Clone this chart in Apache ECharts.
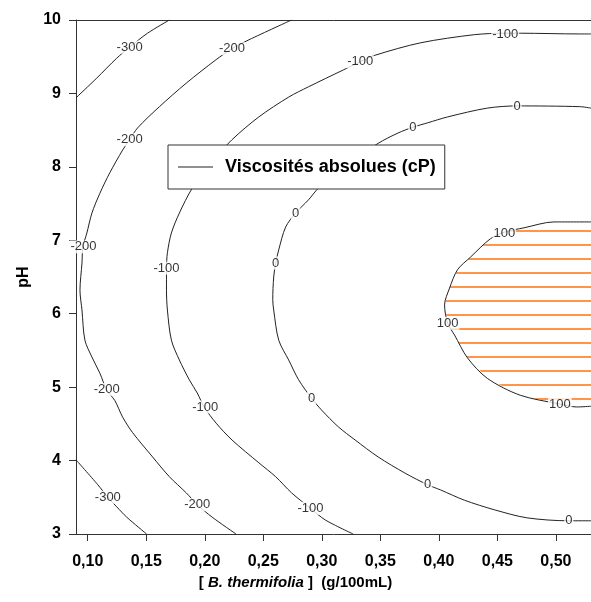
<!DOCTYPE html>
<html>
<head>
<meta charset="utf-8">
<script src="https://cdn.jsdelivr.net/npm/echarts@6/dist/echarts.min.js"></script>
<style>html,body{margin:0;padding:0;background:#fff}#c{width:591px;height:602px}</style>
</head>
<body>
<div id="c"></div>
<script>
// ---- data ----
const xTicks = [0.10, 0.15, 0.20, 0.25, 0.30, 0.35, 0.40, 0.45, 0.50];
const yTicks = [3, 4, 5, 6, 7, 8, 9, 10];
const legendName = 'Viscosités absolues (cP)';

const contourM300Top = [[0.090,8.94],[0.1078,9.21],[0.1248,9.48],[0.1358,9.63],[0.1511,9.82],[0.1698,10.0]];
const contourM300Bot = [[0.090,4.01],[0.1087,3.67],[0.1172,3.50],[0.1248,3.37],[0.1333,3.23],[0.1503,3.0]];
const contourM200 = [[0.2742,10.0],[0.2377,9.73],[0.2233,9.61],[0.2097,9.46],[0.1842,9.14],[0.1613,8.82],[0.1426,8.53],[0.1358,8.37],[0.1299,8.23],[0.1189,7.92],[0.1104,7.64],[0.1036,7.37],[0.0993,7.10],[0.0959,6.91],[0.0951,6.69],[0.0934,6.32],[0.0951,6.05],[0.0976,5.64],[0.1036,5.41],[0.1104,5.19],[0.1163,4.96],[0.1231,4.82],[0.1299,4.59],[0.1384,4.38],[0.1554,4.05],[0.1698,3.78],[0.1842,3.56],[0.1936,3.40],[0.2063,3.23],[0.2267,3.0]];
const contourM100 = [[0.53,9.81],[0.5204,9.81],[0.4695,9.82],[0.4567,9.82],[0.4304,9.80],[0.3846,9.69],[0.3455,9.52],[0.3328,9.43],[0.3184,9.32],[0.2886,9.09],[0.2717,8.95],[0.2462,8.68],[0.2233,8.37],[0.2050,8.05],[0.1893,7.71],[0.1783,7.37],[0.1715,7.10],[0.1681,6.83],[0.1673,6.62],[0.1673,6.32],[0.1681,6.05],[0.1715,5.64],[0.1783,5.37],[0.1868,5.10],[0.1936,4.92],[0.1995,4.73],[0.2097,4.51],[0.2233,4.28],[0.2462,3.97],[0.2606,3.78],[0.2742,3.56],[0.2903,3.35],[0.3031,3.19],[0.3268,3.0]];
const contour0 = [[0.53,8.80],[0.5204,8.82],[0.4669,8.83],[0.4414,8.80],[0.4075,8.68],[0.3905,8.60],[0.3778,8.54],[0.3650,8.46],[0.3481,8.32],[0.3200,8.02],[0.2971,7.71],[0.2886,7.55],[0.2776,7.37],[0.2691,7.18],[0.2632,6.87],[0.2606,6.69],[0.2589,6.50],[0.2581,6.19],[0.2589,6.05],[0.2632,5.64],[0.2717,5.37],[0.2802,5.10],[0.2912,4.85],[0.2997,4.69],[0.3141,4.46],[0.3285,4.28],[0.3481,4.05],[0.3710,3.83],[0.3905,3.67],[0.4015,3.60],[0.4219,3.46],[0.4474,3.33],[0.4754,3.22],[0.5111,3.18],[0.53,3.18]];
const contour100 = [[0.53,7.25],[0.4983,7.25],[0.4728,7.17],[0.4559,7.11],[0.4440,7.02],[0.4270,6.77],[0.4160,6.60],[0.4092,6.35],[0.4049,6.12],[0.4075,5.87],[0.4134,5.71],[0.4244,5.40],[0.4414,5.12],[0.4695,4.89],[0.5034,4.77],[0.5178,4.73],[0.53,4.74]];

const contourLabels = [
  [0.1358,9.63,'-300'],[0.1172,3.50,'-300'],
  [0.2233,9.61,'-200'],[0.1358,8.37,'-200'],[0.0964,6.91,'-200'],[0.1163,4.97,'-200'],[0.1936,3.40,'-200'],
  [0.3328,9.43,'-100'],[0.4567,9.81,'-100'],[0.1673,6.62,'-100'],[0.2004,4.73,'-100'],[0.2903,3.35,'-100'],
  [0.3778,8.54,'0'],[0.4669,8.82,'0'],[0.2776,7.37,'0'],[0.2606,6.69,'0'],[0.2912,4.85,'0'],[0.3905,3.67,'0'],[0.5111,3.18,'0'],
  [0.4559,7.10,'100'],[0.4075,5.87,'100'],[0.5034,4.77,'100']
];

// ---- chart ----
const FONT = '"Liberation Sans", Arial, sans-serif';
const chart = echarts.init(document.getElementById('c'), null, {renderer: 'canvas'});

// hatch pattern (horizontal orange lines)
const pat = document.createElement('canvas');
pat.width = 8; pat.height = 14;
const pctx = pat.getContext('2d');
pctx.fillStyle = '#FF9548';
pctx.fillRect(0, 6, 8, 2);

const contours = [contourM300Top, contourM300Bot, contourM200, contourM100, contour0, contour100];
const lineSeries = contours.map(d => ({
  name: legendName,
  type: 'line',
  data: d,
  symbol: 'none',
  smooth: 0.3,
  color: '#222',
  lineStyle: {color: '#222', width: 1},
  z: 3,
  silent: true
}));

const option = {
  animation: false,
  backgroundColor: '#fff',
  grid: {left: 76, top: 20, width: 518, height: 514, containLabel: false},
  legend: {
    data: [{name: legendName, icon: 'rect', itemStyle: {color: '#222'}}],
    left: 168, top: 145,
    padding: [13, 9, 13, 10],
    itemWidth: 35, itemHeight: 1, itemGap: 12,
    backgroundColor: '#fff',
    borderColor: '#333', borderWidth: 1, borderRadius: 0,
    textStyle: {fontFamily: FONT, fontWeight: 'bold', fontSize: 18, color: '#000', padding: [0, 0, 0, 7]},
    selectedMode: false
  },
  xAxis: [{
    type: 'value', min: 0.09, max: 0.53,
    position: 'bottom',
    axisLine: {show: true, onZero: false, lineStyle: {color: '#333', width: 1}},
    axisTick: {show: true, length: 7, customValues: xTicks, lineStyle: {color: '#333'}},
    axisLabel: {customValues: xTicks, margin: 20, fontFamily: FONT, fontWeight: 'bold', fontSize: 16, color: '#000',
      formatter: v => v.toFixed(2).replace('.', ',')},
    splitLine: {show: false},
    name: '{b|[ }{bi|B. thermifolia}{b| ]  (g/100mL)}',
    nameLocation: 'middle', nameGap: 41,
    nameTextStyle: {padding: [0, 76, 0, 0], rich: {
      b: {fontFamily: FONT, fontWeight: 'bold', fontSize: 15, color: '#000'},
      bi: {fontFamily: FONT, fontWeight: 'bold', fontStyle: 'italic', fontSize: 15, color: '#000'}
    }}
  }, {
    type: 'value', min: 0.09, max: 0.53, position: 'top',
    axisLine: {show: true, onZero: false, lineStyle: {color: '#333', width: 1}},
    axisTick: {show: false}, axisLabel: {show: false}, splitLine: {show: false}
  }],
  yAxis: {
    type: 'value', min: 3, max: 10, interval: 1,
    axisLine: {show: true, onZero: false, lineStyle: {color: '#333', width: 1}},
    axisTick: {show: true, length: 7, lineStyle: {color: '#333'}},
    axisLabel: {margin: 15, fontFamily: FONT, fontWeight: 'bold', fontSize: 16, color: '#000',
      customValues: yTicks},
    splitLine: {show: false},
    name: 'pH', nameLocation: 'middle', nameGap: 44,
    nameTextStyle: {fontFamily: FONT, fontWeight: 'bold', fontSize: 16, color: '#000'}
  },
  series: [
    {
      name: 'hatch',
      type: 'custom',
      data: contour100,
      clip: true,
      z: 1,
      silent: true,
      renderItem: (params, api) => {
        if (params.dataIndex !== 0) return null;
        const pts = contour100.map(p => api.coord(p));
        return {
          type: 'polygon',
          shape: {points: pts},
          style: {fill: {image: pat, repeat: 'repeat'}, stroke: null}
        };
      }
    },
    ...lineSeries,
    {
      name: 'labels',
      type: 'scatter',
      data: contourLabels,
      symbolSize: 1,
      itemStyle: {color: 'rgba(0,0,0,0)'},
      z: 5,
      silent: true,
      label: {
        show: true, position: 'inside',
        formatter: p => p.value[2],
        fontFamily: FONT, fontSize: 13, color: '#000',
        backgroundColor: '#fff', padding: [0, 1]
      }
    }
  ]
};
chart.setOption(option);
</script>
</body>
</html>
